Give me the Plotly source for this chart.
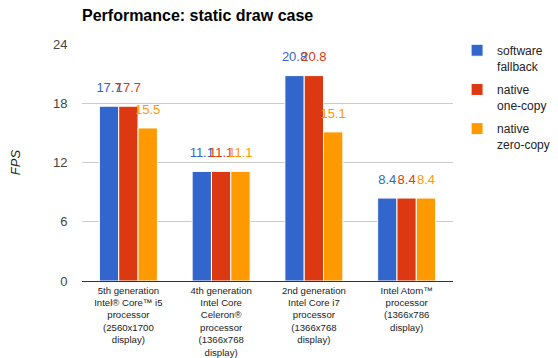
import plotly.graph_objects as go

categories = [
    "5th generation<br>Intel® Core™ i5<br>processor<br>(2560x1700<br>display)",
    "4th generation<br>Intel Core<br>Celeron®<br>processor<br>(1366x768<br>display)",
    "2nd generation<br>Intel Core i7<br>processor<br>(1366x768<br>display)",
    "Intel Atom™<br>processor<br>(1366x786<br>display)",
]
software_fallback = [17.7, 11.1, 20.8, 8.4]
native_one_copy = [17.7, 11.1, 20.8, 8.4]
native_zero_copy = [15.5, 11.1, 15.1, 8.4]
series_names = ["software<br>fallback", "native<br>one-copy", "native<br>zero-copy"]
colors = ["#3366cc", "#dc3912", "#ff9900"]
y_ticks = [0, 6, 12, 18, 24]

W, H = 550, 350  # page body has an 8px margin
GAP = 0.375

fig = go.Figure()
series = [software_fallback, native_one_copy, native_zero_copy]
for i, (name, vals, c) in enumerate(zip(series_names, series, colors)):
    fig.add_trace(go.Bar(
        x=categories, y=vals, name=name, legendgroup=f"g{i}",
        marker=dict(color=c, line=dict(color="white", width=1)),
    ))
for i, (vals, c) in enumerate(zip(series, colors)):
    fig.add_trace(go.Scatter(
        x=categories, y=vals, mode="markers+text", showlegend=False, hoverinfo="skip",
        marker=dict(size=16, color="rgba(0,0,0,0)"),
        text=[f"{v:.1f}" for v in vals], textposition="top center",
        textfont=dict(color=c, size=13, family="Liberation Sans, Arial"),
        cliponaxis=False,
    ))

fig.update_layout(
    width=W, height=H,
    margin=dict(l=74, r=105, t=36, b=77, autoexpand=False),
    paper_bgcolor="white", plot_bgcolor="white",
    barmode="group", bargap=GAP, bargroupgap=0.0,
    scattermode="group", scattergap=GAP,
    font=dict(family="Liberation Sans, Arial", size=13, color="#444"),
    title=dict(text="<b>Performance: static draw case</b>", x=74/W, xanchor="left",
               y=1 - 7/H, yanchor="middle", pad=dict(l=0, r=0, t=0, b=0),
               font=dict(size=16, color="black", family="Liberation Sans, Arial")),
    legend=dict(x=1.011, xanchor="left", y=1.034, yanchor="top", valign="top",
                font=dict(size=12, color="#222"), tracegroupgap=5,
                itemwidth=30),
    showlegend=True,
)
fig.update_yaxes(range=[0, 24], tickvals=y_ticks, gridcolor="#cccccc", zeroline=False,
                 showline=False, tickfont=dict(size=13, color="#444"),
                 ticks="outside", ticklen=11, tickcolor="rgba(0,0,0,0)",
                 automargin=False,
                 title=dict(text="<i>FPS</i>", font=dict(size=13, color="#222"), standoff=32))
fig.update_xaxes(showline=True, linecolor="#333", linewidth=1, ticks="", automargin=False,
                 tickfont=dict(size=9.6, color="#222"))

fig.write_html("out.html")
